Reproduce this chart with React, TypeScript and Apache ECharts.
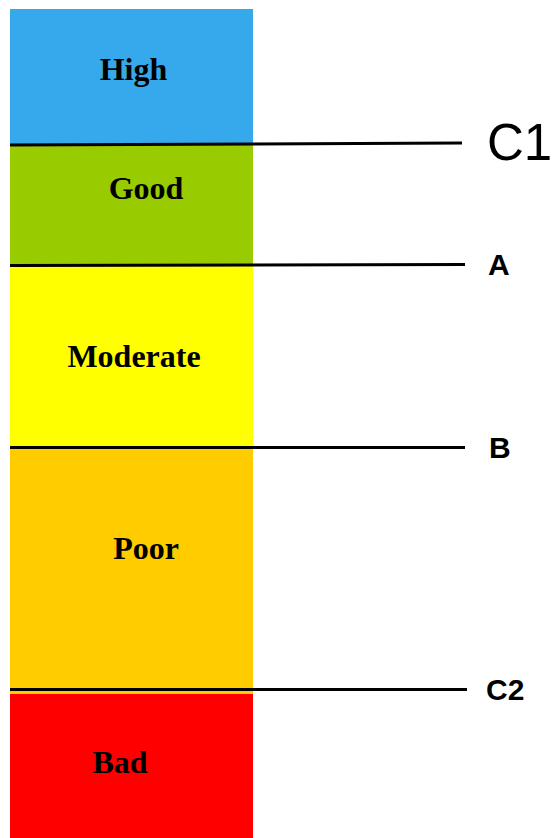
import React, { useEffect, useRef } from "react";
import * as echarts from "echarts";

// Bands from bottom to top
const bandNames = ["Bad", "Poor", "Moderate", "Good", "High"];
const bandValues = [144, 246, 182, 121, 136];
const bandColors = ["#FF0000", "#FFCC00", "#FFFF00", "#99CC00", "#35A9EC"];
const bandLabelOffsets: [number, number][] = [
  [-11.5, -4],
  [14.5, -23],
  [2.5, -1],
  [14.5, -17.5],
  [2, -8],
];

// Threshold lines (value at left end, value at right end)
const thresholdNames = ["C1", "A", "B", "C2"];
const thresholdFrom = [693, 572.5, 391, 148.5];
const thresholdTo = [695, 573.5, 391, 148.5];
const thresholdEndX = [462, 465, 465, 467];
const thresholdLabelStyles = [
  { fontSize: 51, fontWeight: "normal", distance: 25, padding: [8, 0, 0, 0] },
  { fontSize: 30, fontWeight: "bold", distance: 23, padding: [0, 0, 0, 0] },
  { fontSize: 30, fontWeight: "bold", distance: 24, padding: [0, 0, 0, 0] },
  { fontSize: 30, fontWeight: "bold", distance: 19, padding: [0, 0, 0, 0] },
];

const total = bandValues.reduce((a, b) => a + b, 0);

export default function App() {
  const ref = useRef<HTMLDivElement>(null);
  useEffect(() => {
    if (!ref.current) return;
    const chart = echarts.init(ref.current, null, { renderer: "svg" });
    const series: any[] = bandNames.map((name, i) => ({
      name,
      type: "bar",
      stack: "total",
      barWidth: "100%",
      clip: false,
      data: [bandValues[i]],
      itemStyle: { color: bandColors[i] },
      label: {
        show: true,
        position: "inside",
        formatter: name,
        offset: bandLabelOffsets[i],
        fontFamily: "Liberation Serif",
        fontWeight: "bold",
        fontSize: 32,
        color: "#000",
      },
    }));
    series.push({
      type: "line",
      data: [],
      clip: false,
      silent: true,
      markLine: {
        silent: true,
        symbol: "none",
        lineStyle: { color: "#000", width: 3, type: "solid" },
        data: thresholdNames.map((n, i) => [
          {
            xAxis: 0,
            yAxis: thresholdFrom[i],
            x: 10,
            label: {
              show: true,
              position: "end",
              formatter: n,
              fontFamily: "Liberation Sans",
              color: "#000",
              fontSize: thresholdLabelStyles[i].fontSize,
              fontWeight: thresholdLabelStyles[i].fontWeight,
              distance: thresholdLabelStyles[i].distance,
              padding: thresholdLabelStyles[i].padding,
            },
          },
          { xAxis: 0, yAxis: thresholdTo[i], x: thresholdEndX[i] },
        ]),
      },
    });
    chart.setOption({
      animation: false,
      grid: { left: 10, right: 302, top: 9, bottom: 0 },
      xAxis: { type: "category", data: ["Status"], show: false },
      yAxis: { type: "value", min: 0, max: total, show: false },
      series,
    });
    return () => chart.dispose();
  }, []);
  return (
    <div
      ref={ref}
      style={{ position: "fixed", left: 0, top: 0, width: 555, height: 838, background: "#fff" }}
    />
  );
}
